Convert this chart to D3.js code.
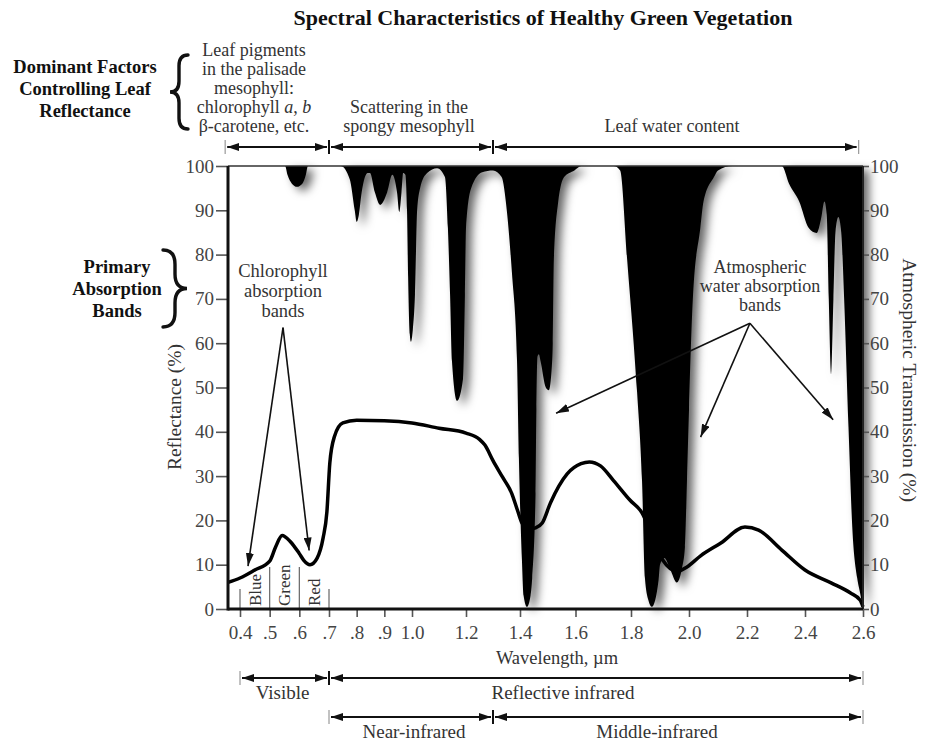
<!DOCTYPE html>
<html>
<head>
<meta charset="utf-8">
<script src="https://cdn.jsdelivr.net/npm/d3@7"></script>
<style>
  body { margin: 0; background: #fff; }
  svg text { font-family: "Liberation Serif", "Times New Roman", serif; }
</style>
</head>
<body>
<div id="chart"></div>
<script>
// ---- data ----
const wlTicks = [0.4, 0.5, 0.6, 0.7, 0.8, 0.9, 1.0, 1.2, 1.4, 1.6, 1.8, 2.0, 2.2, 2.4, 2.6];
const wlTickLabels = ["0.4", ".5", ".6", ".7", ".8", ".9", "1.0", "1.2", "1.4", "1.6", "1.8", "2.0", "2.2", "2.4", "2.6"];
const pctTicks = [0, 10, 20, 30, 40, 50, 60, 70, 80, 90, 100];

// atmospheric transmission (%), the black absorption is drawn above it
const transWl = [
  0.36, 0.552, 0.56, 0.575, 0.592, 0.61, 0.622, 0.629, 0.742,
  0.775, 0.793, 0.8, 0.808, 0.818, 0.84, 0.848, 0.866, 0.885, 0.91, 0.929,
  0.946, 0.954, 0.962, 0.968, 0.976, 0.982, 0.986, 0.992, 0.996, 1.003, 1.011,
  1.019, 1.03, 1.056, 1.093, 1.122, 1.133, 1.141, 1.148, 1.167, 1.189, 1.196,
  1.2, 1.219, 1.26, 1.3, 1.332, 1.351, 1.37, 1.389, 1.396, 1.407, 1.413, 1.425,
  1.438, 1.444, 1.456, 1.459, 1.463, 1.468, 1.474, 1.493, 1.504, 1.515, 1.518,
  1.522, 1.537, 1.559, 1.596, 1.621, 1.737, 1.761, 1.786, 1.821, 1.838, 1.848, 1.86, 1.872,
  1.895, 1.9, 1.915, 1.935, 1.958, 1.975, 1.986, 1.993, 2.0, 2.014, 2.039, 2.05,
  2.086, 2.1, 2.15, 2.32, 2.345, 2.38, 2.413, 2.44, 2.455, 2.467, 2.475, 2.482,
  2.49, 2.498, 2.505, 2.515, 2.525, 2.535, 2.55, 2.563, 2.58, 2.59, 2.6];
const transPct = [
  100, 100, 98, 96, 95.3, 96, 98, 100, 100,
  97, 90, 87.4, 89, 94, 98.4, 98.4, 94, 91.2, 94, 98,
  94, 89.6, 94, 98.4, 98, 90, 75, 62, 60.3, 63, 71,
  90, 95, 98.4, 99.5, 97.5, 86, 71, 56, 47, 52, 71,
  86, 95, 98.6, 99, 97.5, 90, 76, 56, 34, 11, 3, 0.5,
  3, 7, 26, 45, 57, 57.5, 56, 50, 49.4, 55, 60,
  79, 91.6, 97.5, 99, 100, 100, 99, 79, 49, 29, 7, 2, 0.5,
  6.5, 10, 11.5, 9, 6, 9, 14, 29, 45, 71, 86, 92,
  97.5, 99, 100, 100, 96, 92, 86, 84.9, 88, 92, 89, 70,
  53, 70, 85, 88.5, 85, 70, 41, 18.5, 7, 3.6, 0];

// leaf reflectance (%)
const reflWl = [
  0.36, 0.4, 0.45, 0.5, 0.52, 0.542, 0.57, 0.6, 0.615, 0.636, 0.66,
  0.68, 0.693, 0.703, 0.72, 0.75, 0.8, 0.9, 1.0, 1.1, 1.2, 1.25, 1.27, 1.3,
  1.335, 1.37, 1.39, 1.407, 1.43, 1.456, 1.48, 1.51, 1.57, 1.62, 1.65, 1.69, 1.737,
  1.796, 1.838, 1.87, 1.91, 1.96, 1.993, 2.04, 2.11, 2.193, 2.24, 2.32, 2.4, 2.49,
  2.557, 2.59, 2.6];
const reflPct = [
  6, 7, 8.8, 10.8, 14, 16.6, 15.2, 12.5, 11, 10, 11.5,
  16, 22, 33, 39, 42, 42.6, 42.5, 42, 40.8, 39.7, 38.3, 37, 33.5,
  29.8, 26, 22.4, 19.4, 18, 18.3, 19.4, 24, 30.5, 32.8, 33.2, 32.3, 29,
  24.6, 21.7, 17, 11, 8.5, 9.5, 12, 14.9, 18.5, 17.8, 13.3, 8.8, 5.9,
  3.6, 2, 0.5];

const colorBandEdges = [0.4, 0.5, 0.6, 0.7];
const colorBandNames = ["Blue", "Green", "Red"];

const factorEdges = [0.35, 0.7, 1.3, 2.585];
const regionEdges = [0.4, 0.7, 2.6];
const regionNames = ["Visible", "Reflective infrared"];
const subRegionEdges = [0.7, 1.3, 2.6];
const subRegionNames = ["Near-infrared", "Middle-infrared"];

// ---- setup ----
const W = 926, H = 741;
const plot = { left: 228, right: 863, top: 166, bottom: 609 };
const serif = '"Liberation Serif", "Times New Roman", serif';

const svg = d3.select("#chart").append("svg")
  .attr("width", W).attr("height", H);

// the original axis is slightly uneven, so a piecewise linear scale
const x = d3.scaleLinear()
  .domain([0.4, 0.7, 1.0, 1.4, 1.8, 2.0, 2.6])
  .range([240, 329, 412, 520, 631, 689, 863]);
const y = d3.scaleLinear().domain([0, 100]).range([plot.bottom, plot.top]);

const defs = svg.append("defs");
defs.append("clipPath").attr("id", "plotClip")
  .append("rect")
  .attr("x", plot.left).attr("y", plot.top)
  .attr("width", plot.right - plot.left).attr("height", plot.bottom - plot.top);

defs.append("filter").attr("id", "shadow")
  .attr("x", "-10%").attr("y", "-10%").attr("width", "130%").attr("height", "130%")
  .append("feDropShadow")
  .attr("dx", 6).attr("dy", 4).attr("stdDeviation", 5)
  .attr("flood-color", "#000").attr("flood-opacity", 0.6);

function addHead(id, len, wid) {
  defs.append("marker").attr("id", id)
    .attr("viewBox", `0 0 ${len} ${wid}`)
    .attr("refX", len).attr("refY", wid / 2)
    .attr("markerWidth", len).attr("markerHeight", wid)
    .attr("markerUnits", "userSpaceOnUse")
    .attr("orient", "auto-start-reverse")
    .append("path")
    .attr("d", `M0,0L${len},${wid / 2}L0,${wid}z`)
    .attr("fill", "#111");
}
addHead("spanHead", 12, 8);
addHead("pointHead", 13, 8);

// ---- atmospheric absorption (black) ----
const transArea = d3.area()
  .x(d => x(d[0]))
  .y0(y(100))
  .y1(d => y(d[1]))
  .curve(d3.curveMonotoneX);

svg.append("g").attr("filter", "url(#shadow)")
  .append("path")
  .datum(d3.zip(transWl, transPct))
  .attr("clip-path", "url(#plotClip)")
  .attr("fill", "#000")
  .attr("d", transArea);

// ---- blue / green / red band dividers ----
colorBandEdges.forEach((e, i) => {
  const inner = i > 0 && i < colorBandEdges.length - 1;
  svg.append("line")
    .attr("x1", x(e)).attr("x2", x(e))
    .attr("y1", y(0)).attr("y2", y(inner ? 9.5 : 4.5))
    .attr("stroke", "#666").attr("stroke-width", 1.2);
});
colorBandNames.forEach((n, i) => {
  svg.append("text")
    .attr("transform", `translate(${x(colorBandEdges[i + 1]) - 9},${y(0) - 3}) rotate(-90)`)
    .attr("font-size", 17).attr("fill", "#333")
    .text(n);
});

// ---- reflectance curve ----
const reflLine = d3.line()
  .x(d => x(d[0]))
  .y(d => y(d[1]))
  .curve(d3.curveMonotoneX);

svg.append("path")
  .datum(d3.zip(reflWl, reflPct))
  .attr("fill", "none")
  .attr("stroke", "#000")
  .attr("stroke-width", 3.5)
  .attr("stroke-linejoin", "round")
  .attr("d", reflLine);

// ---- axes ----
const leftAxis = svg.append("g")
  .attr("transform", `translate(${plot.left},0)`)
  .call(d3.axisLeft(y).tickValues(pctTicks).tickSize(12).tickPadding(2));
const rightAxis = svg.append("g")
  .attr("transform", `translate(${plot.right},0)`)
  .call(d3.axisRight(y).tickValues(pctTicks).tickSize(6).tickPadding(1));
const bottomAxis = svg.append("g")
  .attr("transform", `translate(0,${plot.bottom})`)
  .call(d3.axisBottom(x).tickValues(wlTicks)
    .tickFormat((d, i) => wlTickLabels[i]).tickSize(8).tickPadding(9));

[leftAxis, rightAxis, bottomAxis].forEach(g => {
  g.select(".domain").remove();
  g.selectAll(".tick line").attr("stroke", "#555").attr("stroke-width", 1.6);
  g.selectAll(".tick text")
    .attr("font-size", 19)
    .attr("fill", "#444")
    .style("font-family", serif);
});

// frame
svg.append("line")
  .attr("x1", plot.left).attr("x2", plot.right)
  .attr("y1", plot.top).attr("y2", plot.top)
  .attr("stroke", "#333").attr("stroke-width", 1.5);
svg.append("line")
  .attr("x1", plot.right).attr("x2", plot.right)
  .attr("y1", plot.top).attr("y2", plot.bottom)
  .attr("stroke", "#222").attr("stroke-width", 2);
svg.append("line")
  .attr("x1", plot.left).attr("x2", plot.left)
  .attr("y1", plot.top).attr("y2", plot.bottom + 1.5)
  .attr("stroke", "#111").attr("stroke-width", 3);
svg.append("line")
  .attr("x1", plot.left).attr("x2", plot.right)
  .attr("y1", plot.bottom).attr("y2", plot.bottom)
  .attr("stroke", "#111").attr("stroke-width", 3);

// axis titles
svg.append("text")
  .attr("transform", `translate(${181},${407}) rotate(-90)`)
  .attr("text-anchor", "middle").attr("font-size", 19.5).attr("fill", "#333")
  .text("Reflectance (%)");
svg.append("text")
  .attr("transform", `translate(${903},${380}) rotate(90)`)
  .attr("text-anchor", "middle").attr("font-size", 19.5).attr("fill", "#333")
  .text("Atmospheric  Transmission (%)");
svg.append("text")
  .attr("x", 557).attr("y", 664)
  .attr("text-anchor", "middle").attr("font-size", 18.5).attr("fill", "#333")
  .text("Wavelength, µm");

// ---- span arrows ----
function spanRow(edges, yPos) {
  const g = svg.append("g");
  for (let i = 0; i < edges.length - 1; i++) {
    g.append("line")
      .attr("x1", x(edges[i]) + 2).attr("x2", x(edges[i + 1]) - 2)
      .attr("y1", yPos).attr("y2", yPos)
      .attr("stroke", "#111").attr("stroke-width", 2)
      .attr("marker-start", "url(#spanHead)")
      .attr("marker-end", "url(#spanHead)");
  }
  edges.forEach((e, i) => {
    const outer = i === 0 || i === edges.length - 1;
    g.append("line")
      .attr("x1", x(e)).attr("x2", x(e))
      .attr("y1", yPos - 7).attr("y2", yPos + 7)
      .attr("stroke", outer ? "#999" : "#111")
      .attr("stroke-width", outer ? 1.2 : 2);
  });
}
spanRow(factorEdges, 147);
spanRow(regionEdges, 678);
spanRow(subRegionEdges, 717);

regionNames.forEach((n, i) => {
  svg.append("text")
    .attr("x", (x(regionEdges[i]) + x(regionEdges[i + 1])) / 2 + (i === 0 ? -2 : -33))
    .attr("y", 699)
    .attr("text-anchor", "middle").attr("font-size", 19).attr("fill", "#333")
    .text(n);
});
subRegionNames.forEach((n, i) => {
  svg.append("text")
    .attr("x", (x(subRegionEdges[i]) + x(subRegionEdges[i + 1])) / 2 + (i === 0 ? 3 : -21))
    .attr("y", 738)
    .attr("text-anchor", "middle").attr("font-size", 19).attr("fill", "#333")
    .text(n);
});

// ---- header text ----
svg.append("text")
  .attr("x", 543).attr("y", 25)
  .attr("text-anchor", "middle").attr("font-size", 22).attr("font-weight", "bold")
  .attr("fill", "#111")
  .text("Spectral Characteristics of Healthy Green Vegetation");

function lines(arr, cx, y0, dy, opts) {
  const t = svg.append("text")
    .attr("text-anchor", "middle")
    .attr("font-size", opts.size)
    .attr("font-weight", opts.bold ? "bold" : "normal")
    .attr("fill", opts.bold ? "#111" : "#333");
  arr.forEach((l, i) => {
    const ts = t.append("tspan").attr("x", cx).attr("y", y0 + i * dy);
    if (Array.isArray(l)) {
      l.forEach(part => {
        ts.append("tspan")
          .attr("font-style", part.italic ? "italic" : "normal")
          .text(part.t);
      });
    } else ts.text(l);
  });
}

lines(["Dominant Factors", "Controlling Leaf", "Reflectance"], 85, 73, 22, { size: 18.5, bold: true });
lines(["Primary", "Absorption", "Bands"], 117, 273, 22, { size: 18.5, bold: true });
lines(["Leaf pigments", "in the palisade", "mesophyll:",
  [{ t: "chlorophyll " }, { t: "a", italic: true }, { t: ", " }, { t: "b", italic: true }],
  "β-carotene, etc."], 254, 56, 19, { size: 18 });
lines(["Scattering in the", "spongy mesophyll"], 409, 113, 19, { size: 18 });
lines(["Leaf water content"], 672, 132, 19, { size: 18 });
lines(["Chlorophyll", "absorption", "bands"], 283, 277, 20, { size: 18.5 });
lines(["Atmospheric", "water absorption", "bands"], 760, 273, 19, { size: 18 });

// ---- braces ----
function brace(xTip, xPoint, y0, y1) {
  const xm = (xTip + xPoint) / 2;
  const mid = (y0 + y1) / 2;
  const r = Math.abs(xTip - xPoint) * 0.6;
  const p = d3.path();
  p.moveTo(xTip, y0);
  p.quadraticCurveTo(xm, y0, xm, y0 + r);
  p.lineTo(xm, mid - r);
  p.quadraticCurveTo(xm, mid, xPoint, mid);
  p.quadraticCurveTo(xm, mid, xm, mid + r);
  p.lineTo(xm, y1 - r);
  p.quadraticCurveTo(xm, y1, xTip, y1);
  svg.append("path").attr("d", p.toString())
    .attr("fill", "none").attr("stroke", "#111")
    .attr("stroke-width", 3.4).attr("stroke-linecap", "round");
}
brace(188, 170, 55, 129);
brace(163, 187, 250, 327);

// ---- pointer arrows ----
function pointers(apex, targets) {
  targets.forEach(t => {
    svg.append("line")
      .attr("x1", x(apex[0])).attr("y1", y(apex[1]))
      .attr("x2", x(t[0])).attr("y2", y(t[1]))
      .attr("stroke", "#111").attr("stroke-width", 1.6)
      .attr("marker-end", "url(#pointHead)");
  });
}
pointers([0.545, 63.5], [[0.427, 9.7], [0.633, 13.2]]);
pointers([2.21, 64.5], [[1.53, 44.2], [2.04, 38.8], [2.497, 42.7]]);
</script>
</body>
</html>
